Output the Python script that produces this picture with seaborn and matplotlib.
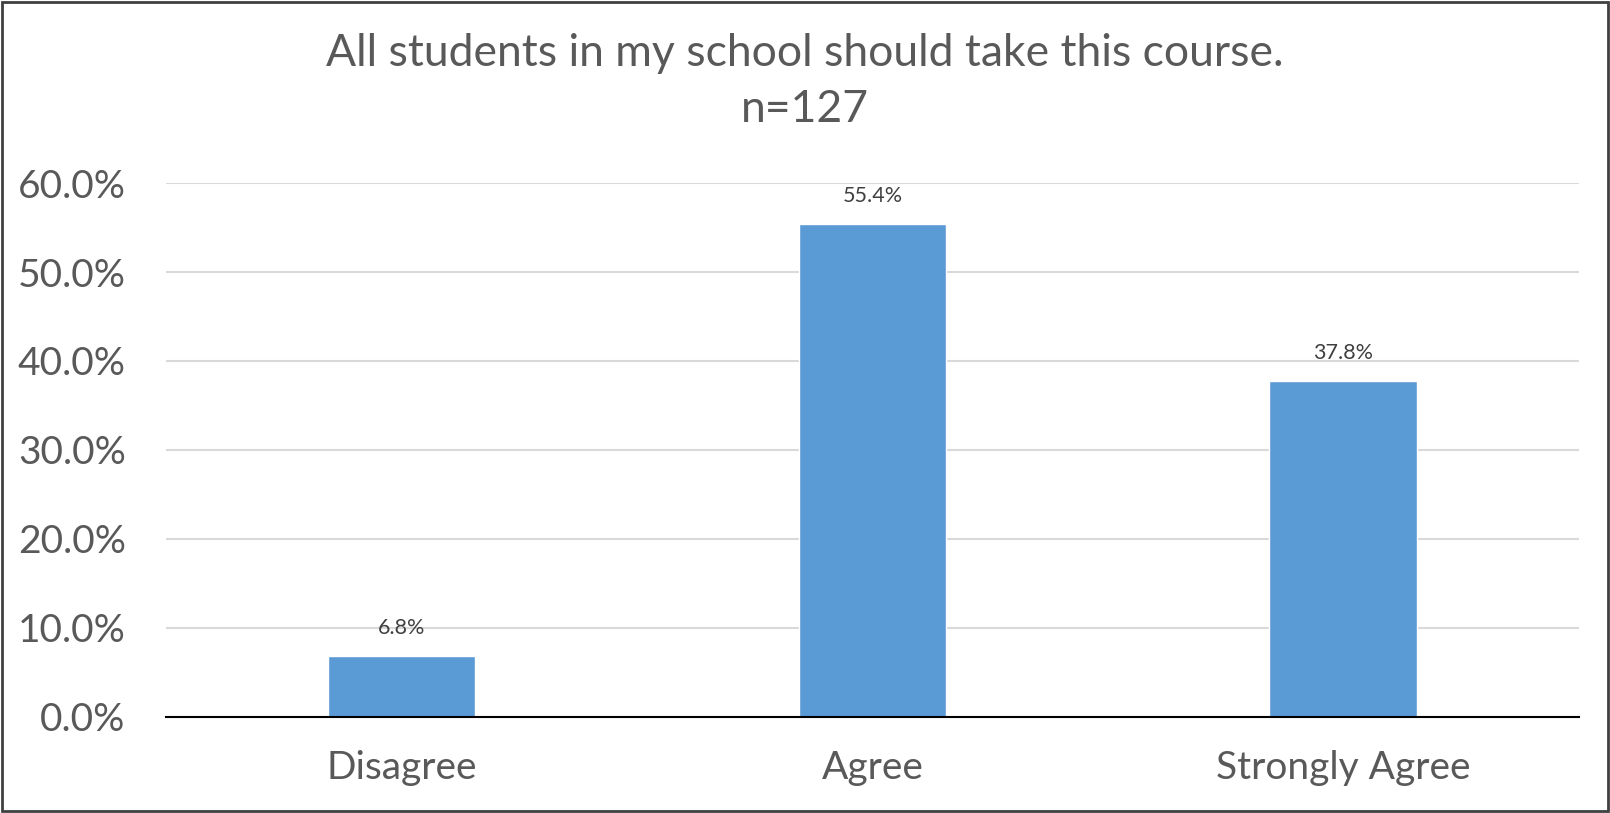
import matplotlib
matplotlib.use("Agg")
import matplotlib.pyplot as plt
import seaborn as sns
import pandas as pd
from matplotlib.patches import Rectangle
from matplotlib.ticker import FuncFormatter

categories = ["Disagree", "Agree", "Strongly Agree"]
values = [0.068, 0.554, 0.378]
value_labels = ["6.8%", "55.4%", "37.8%"]
yticks = [0.0, 0.1, 0.2, 0.3, 0.4, 0.5, 0.6]
title = "All students in my school should take this course.\nn=127"

sns.set_theme(style="white")
plt.rcParams["font.family"] = ["Lato", "DejaVu Sans"]

df = pd.DataFrame({"cat": categories, "val": values})

fig = plt.figure(figsize=(16.1, 8.13), dpi=100)
ax = fig.add_axes([0.1031, 0.1181, 0.8776, 0.6568])

sns.barplot(data=df, x="cat", y="val", color="#5B9BD5", saturation=1,
            width=0.314, ax=ax, zorder=3)

ax.set_ylim(0, 0.6)
ax.set_yticks(yticks)
ax.yaxis.set_major_formatter(FuncFormatter(lambda v, p: f"{v*100:.1f}%"))
ax.grid(axis="y", color="#D9D9D9", linewidth=1.5, zorder=0)
ax.set_xlabel("")
ax.set_ylabel("")
for s in ["left", "right", "top"]:
    ax.spines[s].set_visible(False)
ax.spines["bottom"].set_color("#000000")
ax.spines["bottom"].set_linewidth(1.5)
ax.spines["bottom"].set_zorder(4)
ax.tick_params(axis="y", labelsize=28, labelcolor="#595959", length=0, pad=29)
ax.tick_params(axis="x", labelsize=28, labelcolor="#595959", length=0, pad=24)

for i, (v, lab) in enumerate(zip(values, value_labels)):
    ax.annotate(lab, (i, v), xytext=(0, 13), textcoords="offset points",
                ha="center", va="bottom", fontsize=15.5, color="#404040")

fig.text(0.5, 0.9, title, ha="center", va="center", fontsize=32,
         color="#595959", linespacing=1.45)

fig.patches.append(Rectangle((0.001, 0.002), 0.998, 0.996, transform=fig.transFigure,
                             fill=False, edgecolor="#404040", linewidth=2))

fig.savefig("out.png", dpi=100)
